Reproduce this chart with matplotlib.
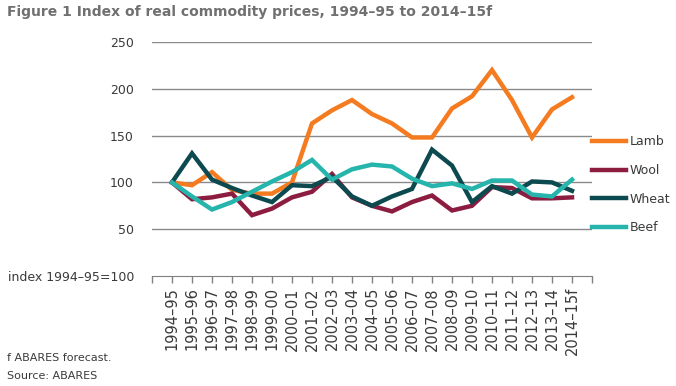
import matplotlib

matplotlib.use("Agg")
import matplotlib.pyplot as plt

# index 1994-95 = 100
years = [
    "1994–95", "1995–96", "1996–97", "1997–98", "1998–99", "1999–00", "2000–01",
    "2001–02", "2002–03", "2003–04", "2004–05", "2005–06", "2006–07", "2007–08",
    "2008–09", "2009–10", "2010–11", "2011–12", "2012–13", "2013–14", "2014–15f",
]
lamb = [100, 97, 111, 92, 88, 88, 100, 163, 177, 188, 173, 163, 148, 148,
        179, 192, 220, 188, 148, 178, 191]
wool = [100, 82, 84, 88, 65, 72, 84, 90, 109, 84, 75, 69, 79, 86,
        70, 75, 95, 94, 83, 83, 84]
wheat = [100, 131, 103, 94, 86, 79, 97, 96, 106, 85, 75, 85, 93, 135,
         118, 79, 96, 88, 101, 100, 91]
beef = [100, 85, 71, 79, 90, 101, 111, 124, 103, 114, 119, 117, 104, 96,
        99, 93, 102, 102, 87, 85, 103]
y_ticks = [0, 50, 100, 150, 200, 250]
y_labels = ["index 1994–95=100", "50", "100", "150", "200", "250"]

series = [
    ("Lamb", lamb, "#F47B20"),
    ("Wool", wool, "#8C1D40"),
    ("Wheat", wheat, "#0D4A50"),
    ("Beef", beef, "#26B5AC"),
]

plt.rcParams["font.family"] = ["DejaVu Sans"]
text_col = "#3a3a3a"

fig = plt.figure(figsize=(6.76, 3.86), dpi=100)
ax = fig.add_axes([152 / 676, 1 - 276 / 386, 440 / 676, 234 / 386])

x = list(range(1, len(years) + 1))
for name, vals, col in series:
    ax.plot(x, vals, color=col, lw=3.2, label=name, solid_joinstyle="miter")

ax.set_xlim(0, len(years) + 1)
ax.set_ylim(0, 250)
ax.set_xticks(range(0, len(years) + 2))
ax.set_xticklabels([""] + years + [""], rotation=90, fontsize=10.5, color=text_col)
ax.tick_params(axis="x", length=5, width=1, color="#808080", pad=3)
ax.set_yticks(y_ticks)
ax.set_yticklabels(y_labels, fontsize=9, color=text_col)
ax.tick_params(axis="y", length=0, pad=13)

for v in y_ticks[1:]:
    ax.axhline(v, color="#8a8a8a", lw=1, zorder=0)
for s in ("top", "right", "left"):
    ax.spines[s].set_visible(False)
ax.spines["bottom"].set_color("#808080")

fig.legend(
    loc="upper left",
    bbox_to_anchor=(586 / 676, 1 - 129 / 386),
    frameon=False,
    fontsize=9,
    handlelength=2.7,
    handletextpad=0.3,
    labelspacing=1.25,
    borderpad=0,
    labelcolor=text_col,
)

fig.text(7 / 676, 1 - 12 / 386, "Figure 1 Index of real commodity prices, 1994–95 to 2014–15f",
         fontsize=10, fontweight="bold", color="#707070", va="center")
fig.text(7 / 676, 1 - 358 / 386, "f ABARES forecast.", fontsize=8, color=text_col, va="center")
fig.text(7 / 676, 1 - 376 / 386, "Source: ABARES", fontsize=8, color=text_col, va="center")

fig.savefig("out.png", dpi=100)
